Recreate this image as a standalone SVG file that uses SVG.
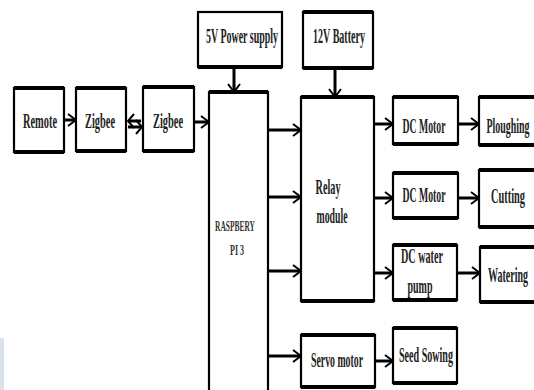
<svg xmlns="http://www.w3.org/2000/svg" width="534" height="390" viewBox="0 0 534 390">
<style>
.box{fill:#fff;stroke:#000;stroke-width:2.2}
.tb{stroke:#000;stroke-width:4;fill:none}
.c{stroke:#000;stroke-width:3;fill:none}
.t{font-family:"Liberation Serif","Times New Roman",serif;font-weight:bold;font-size:21px;fill:#222;text-anchor:middle}
.s{font-size:14px;fill:#333}
</style>
<defs>
<marker id="ah" markerUnits="userSpaceOnUse" markerWidth="10" markerHeight="14" refX="9" refY="7" orient="auto">
<path d="M1,1 L9,7 L1,13" stroke="#000" stroke-width="2" fill="none"/>
</marker>
</defs>
<rect x="0" y="338" width="4" height="52" fill="#dbe1e8"/>
<g id="remote"><rect class="box" x="14" y="88" width="50" height="64"/><path class="tb" d="M14,88 H64 M14,152 H64"/><text class="t" x="40" y="128" textLength="34" lengthAdjust="spacingAndGlyphs">Remote</text></g>
<g id="zigbee1"><rect class="box" x="76" y="88" width="50" height="63"/><path class="tb" d="M76,88 H126 M76,151 H126"/><text class="t" x="100" y="128" textLength="30" lengthAdjust="spacingAndGlyphs">Zigbee</text></g>
<g id="zigbee2"><rect class="box" x="143" y="87" width="51" height="64"/><path class="tb" d="M143,87 H194 M143,151 H194"/><text class="t" x="168" y="128" textLength="30" lengthAdjust="spacingAndGlyphs">Zigbee</text></g>
<g id="power5v"><rect class="box" x="198" y="12" width="84" height="55"/><path class="tb" d="M198,67 H282"/><text class="t" x="242" y="43" textLength="72" lengthAdjust="spacingAndGlyphs">5V Power supply</text></g>
<g id="battery12v"><rect class="box" x="303" y="12" width="70" height="56"/><path class="tb" d="M303,12 H373 M303,68 H373"/><text class="t" x="339" y="43" textLength="52" lengthAdjust="spacingAndGlyphs">12V Battery</text></g>
<g id="raspberry"><rect class="box" x="209" y="92" width="59" height="305"/><path class="tb" d="M209,92 H268"/><text class="t s" x="235" y="231" textLength="40" lengthAdjust="spacingAndGlyphs">RASPBERY</text><text class="t s" x="237" y="255" textLength="14" lengthAdjust="spacingAndGlyphs">PI 3</text></g>
<g id="relay"><rect class="box" x="301" y="97" width="73" height="204"/><path class="tb" d="M301,97 H374 M301,301 H374"/><text class="t" x="328" y="194" textLength="25" lengthAdjust="spacingAndGlyphs">Relay</text><text class="t" x="332" y="223" textLength="31" lengthAdjust="spacingAndGlyphs">module</text></g>
<g id="dcmotor1"><rect class="box" x="393" y="97" width="65" height="47"/><path class="tb" d="M393,97 H458 M393,144 H458"/><text class="t" x="424" y="133" textLength="43" lengthAdjust="spacingAndGlyphs">DC Motor</text></g>
<g id="ploughing"><rect class="box" x="479" y="97" width="58" height="48"/><path class="tb" d="M479,97 H534 M479,145 H534"/><text class="t" x="508" y="133" textLength="43" lengthAdjust="spacingAndGlyphs">Ploughing</text></g>
<g id="dcmotor2"><rect class="box" x="393" y="173" width="65" height="45"/><path class="tb" d="M393,173 H458 M393,218 H458"/><text class="t" x="424" y="202" textLength="43" lengthAdjust="spacingAndGlyphs">DC Motor</text></g>
<g id="cutting"><rect class="box" x="479" y="170" width="58" height="57"/><path class="tb" d="M479,170 H534 M479,227 H534"/><text class="t" x="508" y="203" textLength="34" lengthAdjust="spacingAndGlyphs">Cutting</text></g>
<g id="pump"><rect class="box" x="393" y="245" width="64" height="55"/><path class="tb" d="M393,245 H457 M393,300 H457"/><text class="t" x="422" y="263" textLength="42" lengthAdjust="spacingAndGlyphs">DC water</text><text class="t" x="420" y="293" textLength="25" lengthAdjust="spacingAndGlyphs">pump</text></g>
<g id="watering"><rect class="box" x="480" y="247" width="57" height="55"/><path class="tb" d="M480,247 H534 M480,302 H534"/><text class="t" x="508" y="282" textLength="40" lengthAdjust="spacingAndGlyphs">Watering</text></g>
<g id="servo"><rect class="box" x="301" y="335" width="74" height="52"/><path class="tb" d="M301,335 H375 M301,387 H375"/><text class="t" x="337" y="367" textLength="52" lengthAdjust="spacingAndGlyphs">Servo motor</text></g>
<g id="seed"><rect class="box" x="393" y="328" width="64" height="55"/><path class="tb" d="M393,328 H457 M393,383 H457"/><text class="t" x="426" y="362" textLength="54" lengthAdjust="spacingAndGlyphs">Seed Sowing</text></g>
<g id="connectors">
<path class="c" d="M64,120 H76" marker-end="url(#ah)"/>
<path class="c" d="M128,121 H141 M128,127 H141"/>
<path d="M134,114 L128,121 L134,128 M136,120 L142,127 L136,134" stroke="#000" stroke-width="2" fill="none"/>
<path class="c" d="M194,122 H209" marker-end="url(#ah)"/>
<path class="c" d="M234,67 V92" marker-end="url(#ah)"/>
<path class="c" d="M335,68 V97" marker-end="url(#ah)"/>
<path class="c" d="M268,130 H301" marker-end="url(#ah)"/>
<path class="c" d="M268,197 H301" marker-end="url(#ah)"/>
<path class="c" d="M268,271 H301" marker-end="url(#ah)"/>
<path class="c" d="M268,356 H301" marker-end="url(#ah)"/>
<path class="c" d="M374,124 H393" marker-end="url(#ah)"/>
<path class="c" d="M458,124 H479" marker-end="url(#ah)"/>
<path class="c" d="M374,198 H393" marker-end="url(#ah)"/>
<path class="c" d="M458,198 H479" marker-end="url(#ah)"/>
<path class="c" d="M374,273 H393" marker-end="url(#ah)"/>
<path class="c" d="M457,273 H480" marker-end="url(#ah)"/>
<path class="c" d="M375,361 H393" marker-end="url(#ah)"/>
</g>
</svg>
